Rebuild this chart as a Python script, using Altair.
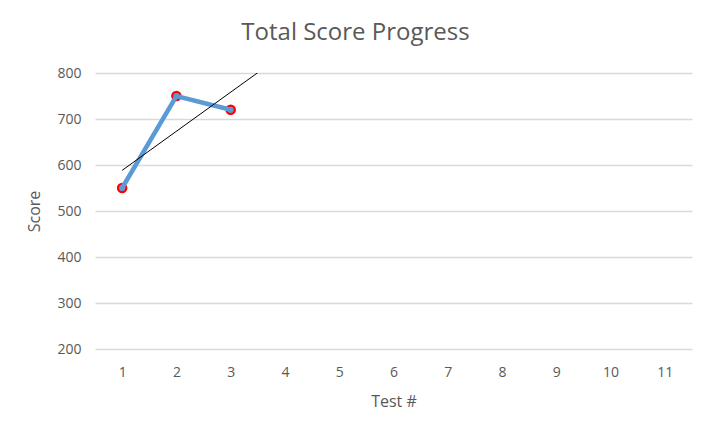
import altair as alt
import pandas as pd

TESTS = [1, 2, 3]
SCORES = [550, 750, 720]
X_TICKS = list(range(1, 12))
Y_TICKS = [200, 300, 400, 500, 600, 700, 800]

FONT = "Open Sans"
GREY = "#595959"

df = pd.DataFrame({"test": TESTS, "score": SCORES})

x = alt.X("test:Q", title="Test #",
          scale=alt.Scale(domain=[0.5, 11.5], nice=False, zero=False),
          axis=alt.Axis(values=X_TICKS, grid=False, domain=False, ticks=False,
                        labelPadding=16, titlePadding=14, labelFontSize=14,
                        titleFontSize=16, labelColor=GREY, titleColor=GREY,
                        labelFont=FONT, titleFont=FONT, titleFontWeight="normal"))
y = alt.Y("score:Q", title="Score",
          scale=alt.Scale(domain=[200, 800], nice=False, zero=False),
          axis=alt.Axis(values=Y_TICKS, grid=True, gridColor="#d9d9d9",
                        gridWidth=1.3, domain=False, ticks=False,
                        labelPadding=14, titlePadding=14, labelFontSize=14,
                        titleFontSize=16, labelColor=GREY, titleColor=GREY,
                        labelFont=FONT, titleFont=FONT, titleFontWeight="normal"))

base = alt.Chart(df).encode(x=x, y=y)

pts = base.mark_circle(size=70, color="#5b9bd5", opacity=1,
                       stroke="#ff0000", strokeWidth=2.2)
line = base.mark_line(color="#5b9bd5", strokeWidth=4.5)
trend = base.transform_regression("test", "score", extent=[1, 11]).mark_line(
    color="black", strokeWidth=1, clip=True)

chart = (pts + line + trend).properties(
    width=597, height=276,
    autosize=alt.AutoSizeParams(type="none"),
    padding={"left": 87, "top": 65, "right": 14, "bottom": 80},
    title=alt.Title("Total Score Progress", fontSize=24, font=FONT,
                    color=GREY, fontWeight="normal", offset=21, dx=-38),
).configure_view(stroke=None)

chart.save("out.html", embed_options={"renderer": "svg", "actions": False})
